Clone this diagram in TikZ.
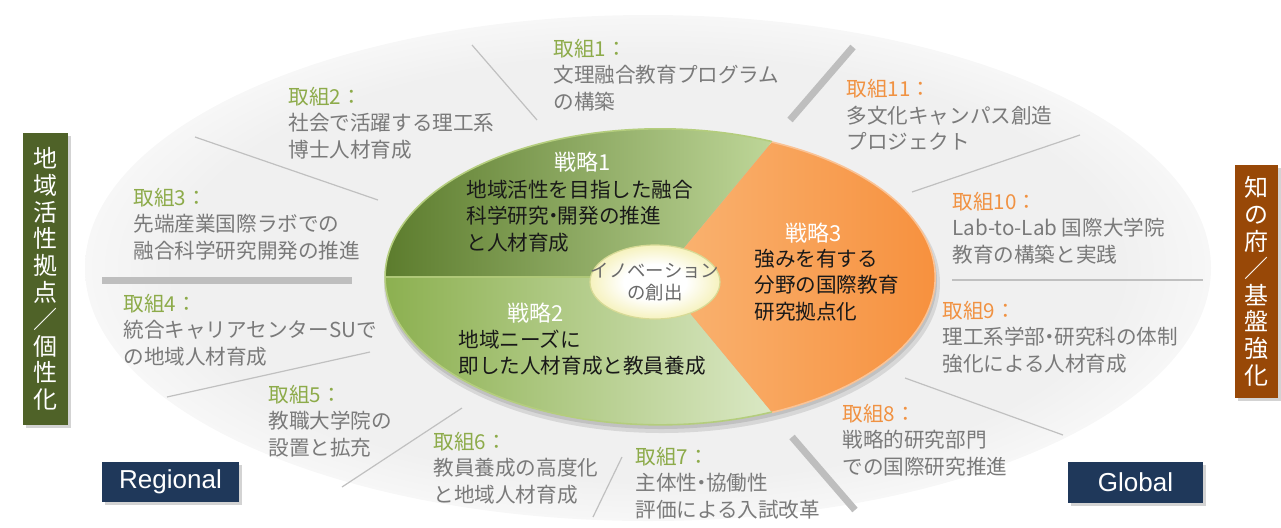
\documentclass[tikz,border=0pt]{standalone}
\usepackage{fontspec}
\newfontfamily\jp{Noto Sans CJK JP}
\newfontfamily\arialf{Liberation Sans}
\usetikzlibrary{shadows}
\definecolor{bgell}{RGB}{240,240,240}
\definecolor{bgedge}{RGB}{247,247,247}
\definecolor{itemgray}{RGB}{122,122,122}
\definecolor{innogray}{RGB}{105,105,105}
\definecolor{lblgreen}{RGB}{141,171,74}
\definecolor{lblorange}{RGB}{240,146,66}
\definecolor{sepgray}{RGB}{192,192,192}
\definecolor{thickgray}{RGB}{190,190,190}
\definecolor{olivebox}{RGB}{79,98,40}
\definecolor{brownbox}{RGB}{152,72,7}
\definecolor{navybox}{RGB}{31,56,90}
\definecolor{gonedark}{RGB}{92,124,45}
\definecolor{gonelight}{RGB}{190,214,152}
\definecolor{gtwodark}{RGB}{140,176,80}
\definecolor{gtwolight}{RGB}{218,232,196}
\definecolor{orlight}{RGB}{250,180,115}
\definecolor{ordark}{RGB}{246,140,55}
\definecolor{innoedge}{RGB}{246,242,190}
\definecolor{innodraw}{RGB}{215,218,150}
\definecolor{bodyblack}{RGB}{25,25,25}
\definecolor{midline}{RGB}{175,200,120}
\definecolor{greenrim}{RGB}{180,205,125}
\definecolor{orangerim}{RGB}{250,195,150}
\pgfdeclareradialshading{fadeell}{\pgfpoint{0bp}{0bp}}{color(0bp)=(bgell); color(21bp)=(bgell); color(25bp)=(bgedge); color(50bp)=(white)}
\pgfdeclareradialshading{innoshade}{\pgfpoint{0bp}{0bp}}{color(0bp)=(white); color(12bp)=(white); color(25bp)=(innoedge); color(50bp)=(innoedge)}
\newcommand{\nakaguro}{\kern-0.28em・\kern-0.28em}
\begin{document}
\begin{tikzpicture}[x=0.5pt,y=-0.5pt,
  item/.style={font=\jp\fontsize{10.3}{13.2}\selectfont, text=itemgray, align=left, anchor=west, inner sep=0pt},
  body/.style={font=\jp\fontsize{10.3}{13.3}\selectfont, text=bodyblack, align=left, anchor=west, inner sep=0pt},
  head/.style={font=\jp\fontsize{11}{13}\selectfont, text=white, inner sep=0pt},
  thinsep/.style={draw=sepgray, line width=0.6pt},
  thicksep/.style={draw=thickgray, line width=3.5pt},
  vbox/.style={font=\jp\fontsize{12}{13.4}\selectfont, text=white, align=center, inner sep=0pt,
     drop shadow={shadow xshift=1.5pt, shadow yshift=-1.5pt, opacity=0.35}},
  tag/.style={fill=navybox, text=white, font=\arialf\fontsize{13}{15}\selectfont, inner sep=0pt,
     drop shadow={shadow xshift=1.5pt, shadow yshift=-1.5pt, opacity=0.35}},
  innotext/.style={font=\jp\fontsize{9.2}{10.8}\selectfont, text=innogray, align=center, inner sep=0pt}
]
\useasboundingbox (0,0) rectangle (1281,527);
% outer ellipse
\shade[shading=fadeell] (648,268) ellipse[x radius=563, y radius=253];
% separators
\draw[thinsep] (472,45) -- (537,120);
\draw[thinsep] (195,137) -- (378,200);
\draw[thicksep] (102,280) -- (352,280);
\draw[thinsep] (167,397) -- (370,352);
\draw[thinsep] (342,487) -- (462,408);
\draw[thinsep] (622,457) -- (593,517);
\draw[thicksep] (792,437) -- (855,510);
\draw[thinsep] (905,378) -- (1063,435);
\draw[thinsep] (952,280) -- (1203,280);
\draw[thinsep] (912,192) -- (1080,135);
\draw[thicksep] (790,120) -- (853,47);
% inner ellipse shadow
\fill[black, opacity=0.10] (662,283) ellipse[x radius=278, y radius=150];
\fill[black, opacity=0.10] (661,281) ellipse[x radius=276, y radius=148];
% sectors
\shade[left color=gonedark, right color=gonelight] (660,277) -- (385,277) arc[start angle=180, end angle=294, x radius=275, y radius=148] -- cycle;
\shade[left color=gtwodark, right color=gtwolight] (660,277) -- (385,277) arc[start angle=180, end angle=66, x radius=275, y radius=148] -- cycle;
\shade[left color=orlight, right color=ordark] (660,277) -- (772,142) arc[start angle=-66, end angle=66, x radius=275, y radius=148] -- cycle;
\draw[draw=midline, line width=0.6pt] (385,277) -- (660,277);
\draw[draw=greenrim, line width=0.8pt] (772,412) arc[start angle=66, end angle=294, x radius=275, y radius=148];
\draw[draw=orangerim, line width=0.8pt] (772,142) arc[start angle=-66, end angle=66, x radius=275, y radius=148];
% innovation ellipse
\shade[shading=innoshade, draw=innodraw, line width=0.6pt] (655,282) ellipse[x radius=65, y radius=37];
\node[innotext] (inno) at (655,282) {イノベーション\\の創出};
% strategies
\node[head] (h1) at (583,162) {戦略1};
\node[body] (s1) at (466,216) {地域活性を目指した融合\\科学研究\nakaguro 開発の推進\\と人材育成};
\node[head] (h2) at (536,313) {戦略2};
\node[body] (s2) at (458,352.5) {地域ニーズに\\即した人材育成と教員養成};
\node[head] (h3) at (814,233) {戦略3};
\node[body] (s3) at (754,285) {強みを有する\\分野の国際教育\\研究拠点化};
% items
\node[item] (t1) at (553,75) {\textcolor{lblgreen}{取組1：}\\文理融合教育プログラム\\の構築};
\node[item] (t2) at (288,123) {\textcolor{lblgreen}{取組2：}\\社会で活躍する理工系\\博士人材育成};
\node[item] (t3) at (133,224) {\textcolor{lblgreen}{取組3：}\\先端産業国際ラボでの\\融合科学研究開発の推進};
\node[item] (t4) at (123,330) {\textcolor{lblgreen}{取組4：}\\統合キャリアセンターSUで\\の地域人材育成};
\node[item] (t5) at (268,421) {\textcolor{lblgreen}{取組5：}\\教職大学院の\\設置と拡充};
\node[item] (t6) at (433,468) {\textcolor{lblgreen}{取組6：}\\教員養成の高度化\\と地域人材育成};
\node[item] (t7) at (635,483) {\textcolor{lblgreen}{取組7：}\\主体性\nakaguro 協働性\\評価による入試改革};
\node[item] (t8) at (842,440) {\textcolor{lblorange}{取組8：}\\戦略的研究部門\\での国際研究推進};
\node[item] (t9) at (942,337) {\textcolor{lblorange}{取組9：}\\理工系学部\nakaguro 研究科の体制\\強化による人材育成};
\node[item] (t10) at (952,228) {\textcolor{lblorange}{取組10：}\\Lab-to-Lab 国際大学院\\教育の構築と実践};
\node[item] (t11) at (846,115) {\textcolor{lblorange}{取組11：}\\多文化キャンパス創造\\プロジェクト};
% side boxes
\node[vbox, fill=olivebox, minimum width=22.5pt, minimum height=146pt] (lbox) at (45.5,279) {地\\域\\活\\性\\拠\\点\\／\\個\\性\\化};
\node[vbox, fill=brownbox, minimum width=21.5pt, minimum height=116.5pt] (rbox) at (1256.5,281.5) {知\\の\\府\\／\\基\\盤\\強\\化};
\node[tag, minimum width=68.5pt, minimum height=20pt] (reg) at (170.5,482) {Regional};
\node[tag, minimum width=67.5pt, minimum height=20.5pt] (glob) at (1135.5,482.5) {Global};
\end{tikzpicture}
\end{document}
